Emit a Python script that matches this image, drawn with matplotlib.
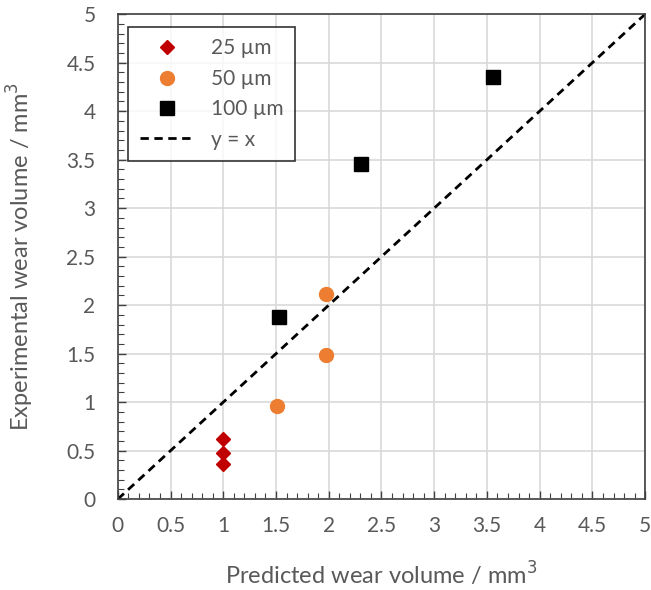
import numpy as np
import matplotlib.pyplot as plt
from matplotlib.ticker import MultipleLocator

# predicted vs experimental wear volume (mm^3) per particle size
x_25 = [1.0, 1.0, 1.0]
y_25 = [0.62, 0.48, 0.36]
x_50 = [1.51, 1.97, 1.97]
y_50 = [0.96, 1.49, 2.11]
x_100 = [1.53, 2.31, 3.56]
y_100 = [1.88, 3.46, 4.35]
ref_line = [0, 5]
ticks = np.arange(0, 5.01, 0.5)

plt.rcParams['font.family'] = ['Lato', 'DejaVu Sans']
txt = '#595959'

fig = plt.figure(figsize=(6.51, 5.9), dpi=100)
ax = fig.add_axes([0.181, 0.154, 0.81, 0.822])

ax.plot(x_25, y_25, 'D', color='#c00000', ms=7.5, ls='none', label='25 µm', zorder=3)
ax.plot(x_50, y_50, 'o', color='#ed7d31', ms=10, ls='none', label='50 µm', zorder=3)
ax.plot(x_100, y_100, 's', color='black', ms=10, ls='none', label='100 µm', zorder=3)
ax.plot(ref_line, ref_line, '--', color='black', lw=2, dashes=(3, 2), label='y = x', zorder=2)

ax.set_xticks(ticks, [f'{v:g}' for v in ticks])
ax.set_yticks(ticks, [f'{v:g}' for v in ticks])
ax.xaxis.set_minor_locator(MultipleLocator(0.1))
ax.yaxis.set_minor_locator(MultipleLocator(0.1))
ax.set_xlim(0, 5)
ax.set_ylim(0, 5)
ax.grid(True, which='major', color='#d9d9d9', lw=1.2, zorder=0)
ax.set_axisbelow(True)
ax.tick_params(which='major', direction='in', length=6, width=1, color='#404040',
               labelsize=15, labelcolor=txt)
ax.tick_params(axis='x', which='major', pad=12)
ax.tick_params(axis='y', which='major', pad=16)
ax.tick_params(which='minor', direction='in', length=4, width=0.8, color='#404040')
for s in ax.spines.values():
    s.set_color('#404040')
    s.set_linewidth(1.2)

ax.set_xlabel('Predicted wear volume / mm$^3$', fontsize=17, color=txt, labelpad=18)
ax.set_ylabel('Experimental wear volume / mm$^3$', fontsize=17, color=txt, labelpad=22)

leg = ax.legend(loc='upper left', fontsize=15, frameon=True, fancybox=False,
                borderpad=0.55, labelspacing=0.5, handlelength=2.6,
                bbox_to_anchor=(0.0, 0.995))
leg.get_frame().set_edgecolor('black')
leg.get_frame().set_linewidth(1.2)
for t in leg.get_texts():
    t.set_color(txt)

fig.savefig('out.png', dpi=100)
